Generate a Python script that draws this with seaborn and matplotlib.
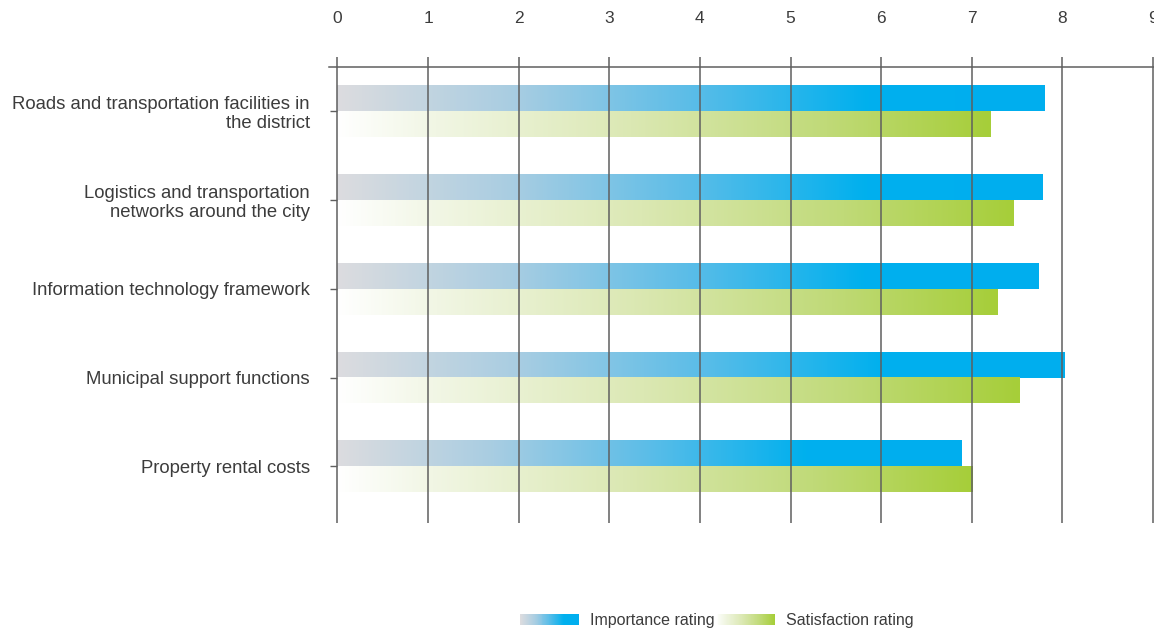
import numpy as np
import pandas as pd
import seaborn as sns
import matplotlib
matplotlib.use("Agg")
import matplotlib.pyplot as plt
from matplotlib.colors import LinearSegmentedColormap
from matplotlib.legend_handler import HandlerBase
from matplotlib.patches import Rectangle

# data
categories = [
    "Roads and transportation facilities in\nthe district",
    "Logistics and transportation\nnetworks around the city",
    "Information technology framework",
    "Municipal support functions",
    "Property rental costs",
]
importance = [7.81, 7.78, 7.74, 8.03, 6.89]
satisfaction = [7.21, 7.46, 7.29, 7.53, 7.01]
series_names = ["Importance rating", "Satisfaction rating"]
x_ticks = list(range(10))

df = pd.DataFrame({
    "category": categories * 2,
    "value": importance + satisfaction,
    "series": [series_names[0]] * 5 + [series_names[1]] * 5,
})

sns.set_theme(style="white")
plt.rcParams["font.family"] = ["Liberation Sans", "DejaVu Sans"]
text_col = "#3c3c3c"
line_col = "#5f5f5f"

blue_cmap = LinearSegmentedColormap.from_list(
    "imp", [(0, "#dcdcdf"), (0.25, "#a8cde2"), (0.5, "#5bbde8"),
            (0.75, "#00b0ee"), (1, "#00aeef")])
green_cmap = LinearSegmentedColormap.from_list(
    "sat", [(0, "#ffffff"), (0.15, "#f1f6e4"), (0.45, "#dbe8b3"),
            (0.75, "#c0da78"), (1, "#a6ce39")])
cmaps = [blue_cmap, green_cmap]

fig = plt.figure(figsize=(11.54, 6.31), dpi=100)
ax = fig.add_axes([0.285, 0.171, 0.722, 0.723])

sns.barplot(data=df, y="category", x="value", hue="series", orient="h",
            width=0.58, ax=ax, legend=False, saturation=1)

# replace flat fills by left-to-right gradients
grad = np.linspace(0, 1, 256).reshape(1, -1)
for cont, cm in zip(ax.containers, cmaps):
    for p in cont.patches:
        x0, y0 = p.get_x(), p.get_y()
        w, h = p.get_width(), p.get_height()
        p.set_facecolor("none")
        p.set_edgecolor("none")
        ax.imshow(grad, extent=[x0, x0 + w, y0 + h, y0], aspect="auto",
                  cmap=cm, interpolation="bicubic", zorder=1)

ax.set_xlim(-0.094, 9.1)
ax.set_ylim(4.64, -0.5)
ax.set_aspect("auto")

ax.xaxis.tick_top()
ax.set_xticks(x_ticks)
ax.set_xticklabels([str(t) for t in x_ticks])
ax.set_axisbelow(False)
ax.grid(axis="x", color=line_col, lw=1.1, zorder=3)
ax.grid(axis="y", visible=False)

for side in ["left", "right", "bottom"]:
    ax.spines[side].set_visible(False)
ax.spines["left"].set_position(("data", 0))
ax.spines["top"].set_color(line_col)
ax.spines["top"].set_linewidth(1.1)

ax.tick_params(axis="x", top=True, bottom=False, direction="out", length=7.5,
               width=1.1, color=line_col, labelsize=12.5, labelcolor=text_col, pad=22)
ax.tick_params(axis="y", left=True, direction="out", length=5, width=1.0,
               color=line_col, labelsize=13.3, labelcolor=text_col, pad=15)
for lab in ax.get_yticklabels():
    lab.set_linespacing(1.17)

ax.set_xlabel("")
ax.set_ylabel("")


class GradientHandler(HandlerBase):
    def __init__(self, cmap, n=60):
        super().__init__()
        self.cmap = cmap
        self.n = n

    def create_artists(self, legend, orig_handle, xdescent, ydescent,
                       width, height, fontsize, trans):
        arts = []
        step = width / self.n
        for i in range(self.n):
            r = Rectangle((-xdescent + i * step, -ydescent), step * 1.05, height,
                          facecolor=self.cmap(i / (self.n - 1)), edgecolor="none",
                          transform=trans)
            arts.append(r)
        return arts


handles = [Rectangle((0, 0), 1, 1), Rectangle((0, 0), 1, 1)]
fig.legend(handles, series_names,
           handler_map={handles[0]: GradientHandler(blue_cmap),
                        handles[1]: GradientHandler(green_cmap)},
           loc="center", bbox_to_anchor=(0.621, 0.016), ncol=2, frameon=False,
           fontsize=11.5, labelcolor=text_col, handlelength=3.7, handleheight=0.7,
           handletextpad=0.7, columnspacing=0.05)

fig.savefig("out.png", dpi=100)
